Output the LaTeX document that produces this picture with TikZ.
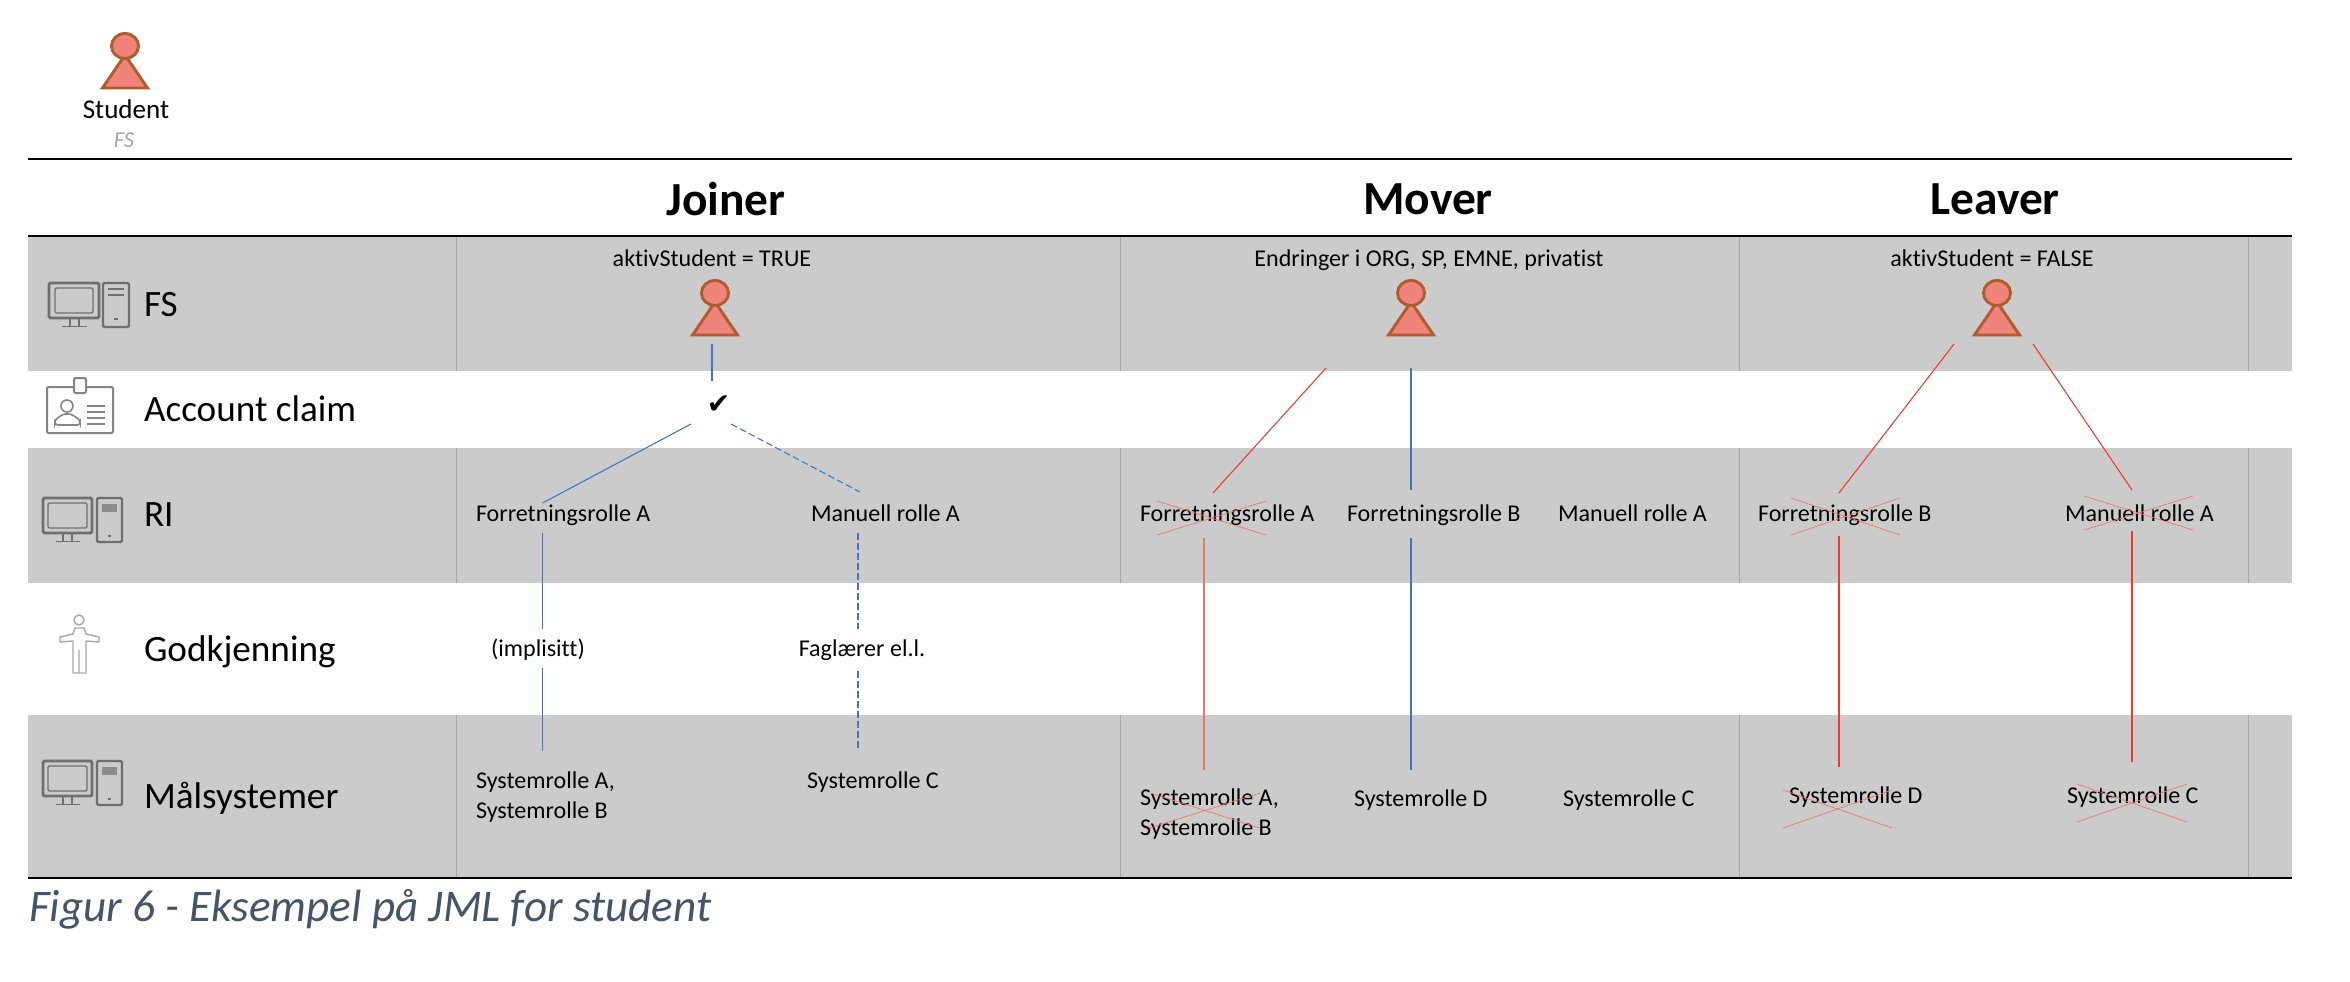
\documentclass[tikz,border=0pt]{standalone}
\usepackage{fontspec}
\setmainfont[Ligatures=CommonOff]{Carlito}
\newfontfamily\symfont{DejaVu Sans}
\definecolor{band}{HTML}{CBCBCB}
\definecolor{vrule}{HTML}{A6A6A6}
\definecolor{blueln}{HTML}{4472C4}
\definecolor{redln}{HTML}{F0392B}
\definecolor{redsoft}{HTML}{E8776A}
\definecolor{pfill}{HTML}{F0837A}
\definecolor{pdraw}{HTML}{AE5E2E}
\definecolor{icon}{HTML}{6F6F6F}
\definecolor{captionc}{HTML}{44546A}
\tikzset{
  x=0.75pt,y=-0.75pt,
  every node/.style={inner sep=0pt,outer sep=0pt,text=black},
  rowhead/.style={anchor=west,font=\fontsize{27.9}{32}\selectfont},
  rolem/.style={anchor=west,yshift=-1.1pt,font=\fontsize{18.05}{21.6}\selectfont},
  role/.style={rolem,text height=12pt,text depth=3.5pt},
  rolec/.style={yshift=-1.1pt,text height=12pt,text depth=3.5pt,font=\fontsize{18.05}{21.6}\selectfont},
  phase/.style={font=\bfseries\fontsize{35.6}{40}\selectfont},
  bl/.style={draw=blueln,line width=0.8pt},
  bld/.style={draw=blueln,line width=0.8pt,dash pattern=on 5pt off 2.5pt},
  rl/.style={draw=redln,line width=0.8pt},
  rlv/.style={draw=redsoft,line width=0.9pt},
  xmark/.style={draw=redsoft,line width=0.5pt},
  heavy/.style={draw=black,line width=2.2pt},
  vsep/.style={draw=vrule,line width=0.6pt},
  ico/.style={draw=icon,line width=2.2pt,rounded corners=1pt},
  person/.pic={
    \path[fill=pfill,draw=pdraw,line width=2.2pt,line join=miter]
      (-22.5,29) -- (0,-4) -- (22.5,29) -- cycle;
    \path[fill=pfill,draw=pdraw,line width=2.2pt]
      (0,-13) ellipse [x radius=13.5,y radius=12.5];
  },
  computer/.pic={
    \draw[ico] (0,0) rectangle (49,35);
    \draw[ico,line width=1.1pt] (5,5) rectangle (44,30);
    \draw[icon,line width=1.4pt] (20,35) -- (20,43) (29,35) -- (29,43) (13,43.5) -- (37,43.5);
    \draw[ico,line width=1.8pt] (54,0) rectangle (79,44);
    \fill[icon!80] (59,6) rectangle (74,14);
    \fill[icon] (65,37) rectangle (68,39);
  },
  computerlined/.pic={
    \draw[ico] (0,0) rectangle (50,35);
    \draw[ico,line width=1.1pt] (6,5) rectangle (44,30);
    \draw[icon,line width=1.4pt] (21,35) -- (21,43) (30,35) -- (30,43) (13,43.5) -- (38,43.5);
    \draw[ico,line width=1.8pt] (54,0) rectangle (80,44);
    \draw[icon,line width=1.3pt] (59,6) -- (75,6) (59,12) -- (75,12);
    \fill[icon] (65,35) rectangle (69,37);
  },
}
\begin{document}
\begin{tikzpicture}
\useasboundingbox (0,0) rectangle (2350,982);
% bands
\fill[band] (28,236) rectangle (2292,371);
\fill[band] (28,448) rectangle (2292,583);
\fill[band] (28,715) rectangle (2292,878);
% column separators
\foreach \xx in {456,1120,1739,2248}{
  \draw[vsep] (\xx,236) -- (\xx,371);
  \draw[vsep] (\xx,448) -- (\xx,583);
  \draw[vsep] (\xx,715) -- (\xx,878);
}
% heavy rules
\coordinate (ruleAl) at (28,159); \coordinate (ruleAr) at (2292,159);
\coordinate (ruleBl) at (28,236); \coordinate (ruleBr) at (2292,236);
\coordinate (ruleCl) at (28,878); \coordinate (ruleCr) at (2292,878);
\draw[heavy] (ruleAl) -- (ruleAr);
\draw[heavy] (ruleBl) -- (ruleBr);
\draw[heavy] (ruleCl) -- (ruleCr);

% legend
\pic at (125,59) {person};
\node (student) [font=\fontsize{20.3}{24}\selectfont] at (126,109) {Student};
\node (studentfs) [font=\itshape\fontsize{17}{20}\selectfont,text=vrule] at (124,140.5) {FS};

% phases
\node (joiner) [phase] at (726,199) {Joiner};
\node (mover) [phase] at (1428,199) {Mover};
\node (leaver) [phase] at (1995,199) {Leaver};

% row heads
\node (hfs) [rowhead] at (144,305) {FS};
\node (hac) [rowhead] at (144,409) {Account claim};
\node (hri) [rowhead] at (144,515) {RI};
\node (hgo) [rowhead] at (144,652) {Godkjenning};
\node (hma) [rowhead] at (144,798) {Målsystemer};

% icons
\pic at (49,283) {computerlined};
\pic at (43,498) {computer};
\pic at (43,761) {computer};
% badge icon
\draw[ico,icon!85,line width=1.5pt] (47,387) rectangle (113,433);
\draw[ico,icon!85,fill=white,line width=1.5pt] (74,378) rectangle (86,393);
\draw[icon!85,line width=1.2pt] (67,406) circle (6);
\draw[icon!85,line width=1.2pt,rounded corners=2pt] (55,425) -- (55,420) -- (63,414) -- (71,414) -- (80,420) -- (80,425) -- cycle;
\draw[icon!85,line width=1.2pt] (87,406) -- (105,406) (87,412) -- (105,412) (87,418) -- (105,418) (87,424) -- (105,424);
% person outline icon
\draw[icon!60,line width=1.1pt] (79,620) circle (5);
\draw[icon!60,line width=1.1pt,line join=round]
  (75,628) -- (84,628) -- (86,634) -- (99,637) -- (99,642) -- (86,641) -- (86,673) -- (73,673) -- (73,641) -- (60,642) -- (60,637) -- (73,634) -- cycle
  (79,650) -- (79,673);

% top texts
\node (tj) [rolec] at (712,259.5) {aktivStudent = TRUE};
\node (tm) [rolec] at (1429,259.5) {Endringer i ORG, SP, EMNE, privatist};
\node (tl) [rolec] at (1992,259.5) {aktivStudent = FALSE};
\pic at (715,306) {person};
\pic at (1411,306) {person};
\pic at (1997,306) {person};

% Joiner
\node (check) [font=\symfont\fontsize{21}{24}\selectfont] at (718.6,405) {✔};
\node (jfa) [role] at (476,514.5) {Forretningsrolle A};
\node (jma) [role] at (811,514.5) {Manuell rolle A};
\coordinate (j0) at (712,344); \coordinate (j1) at (712,381);
\coordinate (j2) at (691,424); \coordinate (j3) at (542.6,503);
\coordinate (j4) at (731,424); \coordinate (j5) at (860,492);
\coordinate (j6) at (542.6,533); \coordinate (j7) at (542.6,629);
\coordinate (j8) at (542.6,668); \coordinate (j9) at (542.6,751);
\coordinate (j10) at (858,533); \coordinate (j11) at (858,629);
\coordinate (j12) at (858,671); \coordinate (j13) at (858,751);
\draw[bl] (j0) -- (j1);
\draw[bl] (j2) -- (j3);
\draw[bld] (j4) -- (j5);
\draw[bl] (j6) -- (j7);
\draw[bl] (j8) -- (j9);
\draw[bld] (j10) -- (j11);
\draw[bld] (j12) -- (j13);
\node (imp) [rolec] at (538,649) {(implisitt)};
\node (fag) [rolec] at (862,649) {Faglærer el.l.};
\node (jsa) [rolem,align=left] at (476,796) {Systemrolle A,\\[1pt]Systemrolle B};
\node (jsc) [rolec] at (873,781) {Systemrolle C};

% Mover
\node (mfa) [role] at (1140,514.5) {Forretningsrolle A};
\node (mfb) [role] at (1347,514.5) {Forretningsrolle B};
\node (mma) [role] at (1558,514.5) {Manuell rolle A};
\draw[xmark] (1157,501) -- (1266,535) (1157,535) -- (1266,501);
\coordinate (m0) at (1326,368); \coordinate (m1) at (1213,493);
\coordinate (m2) at (1411,368); \coordinate (m3) at (1411,490);
\coordinate (m4) at (1204,538); \coordinate (m5) at (1204,770);
\coordinate (m6) at (1411,538); \coordinate (m7) at (1411,770);
\draw[rl] (m0) -- (m1);
\draw[bl] (m2) -- (m3);
\draw[rlv] (m4) -- (m5);
\draw[bl] (m6) -- (m7);
\node (msa) [rolem,align=left] at (1140,813) {Systemrolle A,\\[1pt]Systemrolle B};
\node (msd) [role] at (1354,799) {Systemrolle D};
\node (msc) [role] at (1563,799) {Systemrolle C};
\draw[xmark] (1150,793) -- (1260,828) (1150,828) -- (1260,793);

% Leaver
\node (lfb) [role] at (1758,514.5) {Forretningsrolle B};
\node (lma) [role] at (2065,514.5) {Manuell rolle A};
\draw[xmark] (1791,498) -- (1900,535) (1791,535) -- (1900,498);
\draw[xmark] (2084,496) -- (2193,530) (2084,530) -- (2193,496);
\coordinate (l0) at (1954,344); \coordinate (l1) at (1839,493);
\coordinate (l2) at (2033,344); \coordinate (l3) at (2132,490);
\coordinate (l4) at (1839,536); \coordinate (l5) at (1839,767);
\coordinate (l6) at (2132,531); \coordinate (l7) at (2132,762);
\draw[rl] (l0) -- (l1);
\draw[rl] (l2) -- (l3);
\draw[rl] (l4) -- (l5);
\draw[rl] (l6) -- (l7);
\node (lsd) [role] at (1789,796) {Systemrolle D};
\node (lsc) [role] at (2067,796) {Systemrolle C};
\draw[xmark] (1783,828) -- (1892,790) (1783,790) -- (1892,828);
\draw[xmark] (2077,822) -- (2187,784) (2077,784) -- (2187,822);

% caption
\node (cap) [anchor=west,font=\itshape\fontsize{33.9}{40}\selectfont,text=captionc] at (29,909.5) {Figur 6 - Eksempel på JML for student};
\end{tikzpicture}
\end{document}
